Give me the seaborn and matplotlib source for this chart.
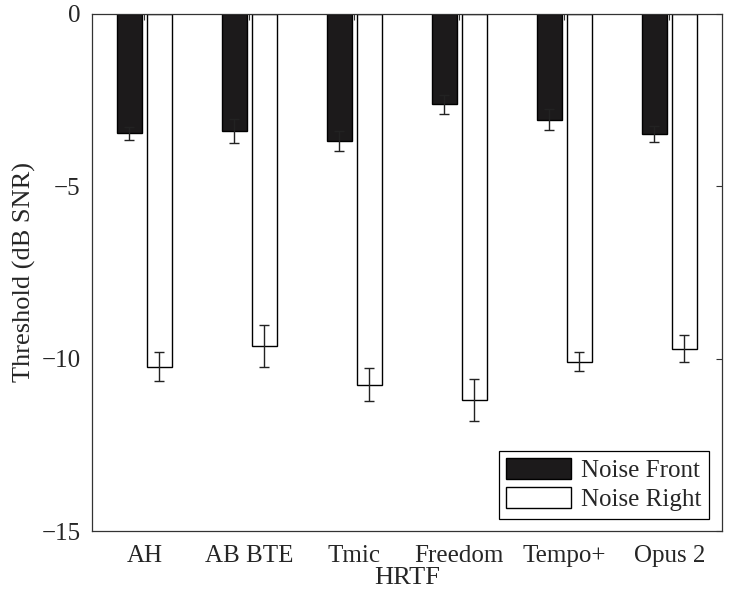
import matplotlib
matplotlib.use("Agg")
import matplotlib.pyplot as plt
import seaborn as sns
import pandas as pd
import numpy as np

hrtf = ["AH", "AB BTE", "Tmic", "Freedom", "Tempo+", "Opus 2"]
conditions = ["Noise Front", "Noise Right"]
front = [-3.47, -3.39, -3.69, -2.63, -3.07, -3.48]
front_err = [0.19, 0.35, 0.28, 0.27, 0.31, 0.23]
right = [-10.23, -9.63, -10.76, -11.20, -10.09, -9.71]
right_err = [0.42, 0.60, 0.48, 0.62, 0.27, 0.39]
yticks = [0, -5, -10, -15]

df = pd.DataFrame({
    "HRTF": hrtf * 2,
    "Condition": [conditions[0]] * len(hrtf) + [conditions[1]] * len(hrtf),
    "Threshold": front + right,
    "Err": front_err + right_err,
})

sns.set_style("white")
plt.rcParams["font.family"] = ["Liberation Serif", "DejaVu Serif"]
plt.rcParams["axes.unicode_minus"] = True
plt.rcParams["xtick.direction"] = "in"
plt.rcParams["ytick.direction"] = "in"

fig = plt.figure(figsize=(7.29, 5.98), dpi=100)
ax = fig.add_axes([0.126, 0.112, 0.864, 0.865])

sns.barplot(data=df, x="HRTF", y="Threshold", hue="Condition", order=hrtf,
            hue_order=conditions, palette={"Noise Front": "#1c1a1b", "Noise Right": "white"},
            edgecolor="black", linewidth=1.0, width=0.57, gap=0.175,
            errorbar=None, saturation=1, ax=ax)

# error bars at bar centres
for cont, cond in zip(ax.containers, conditions):
    sub = df[df["Condition"] == cond].set_index("HRTF").loc[hrtf]
    xs = [p.get_x() + p.get_width() / 2 for p in cont.patches]
    ax.errorbar(xs, sub["Threshold"].values, yerr=sub["Err"].values, fmt="none",
                ecolor="#222222", elinewidth=1.0, capsize=3.8, capthick=1.0, zorder=5)

ax.set_ylim(-15, 0)
ax.set_xlim(-0.5, len(hrtf) - 0.5)
ax.set_yticks(yticks)
ax.set_yticklabels(["0", "\u22125", "\u221210", "\u221215"])
ax.tick_params(axis="both", which="both", direction="in", length=4.5, width=0.8,
               labelsize=18, top=True, right=True, color="#333333", pad=8)
ax.tick_params(axis="x", pad=10)
for s in ax.spines.values():
    s.set_visible(True)
    s.set_color("#333333")
    s.set_linewidth(0.9)

ax.set_xlabel("HRTF", fontsize=19, labelpad=0)
ax.set_ylabel("Threshold (dB SNR)", fontsize=19, labelpad=4)

handles, labels = ax.get_legend_handles_labels()
leg = ax.legend(handles, labels, loc="lower right", fontsize=18, frameon=True,
                fancybox=False, edgecolor="black", framealpha=1,
                handlelength=2.6, handleheight=0.9, handletextpad=0.4,
                borderpad=0.3, labelspacing=0.2, borderaxespad=0.5)
leg.get_frame().set_linewidth(0.9)

fig.savefig("out.png", dpi=100)
